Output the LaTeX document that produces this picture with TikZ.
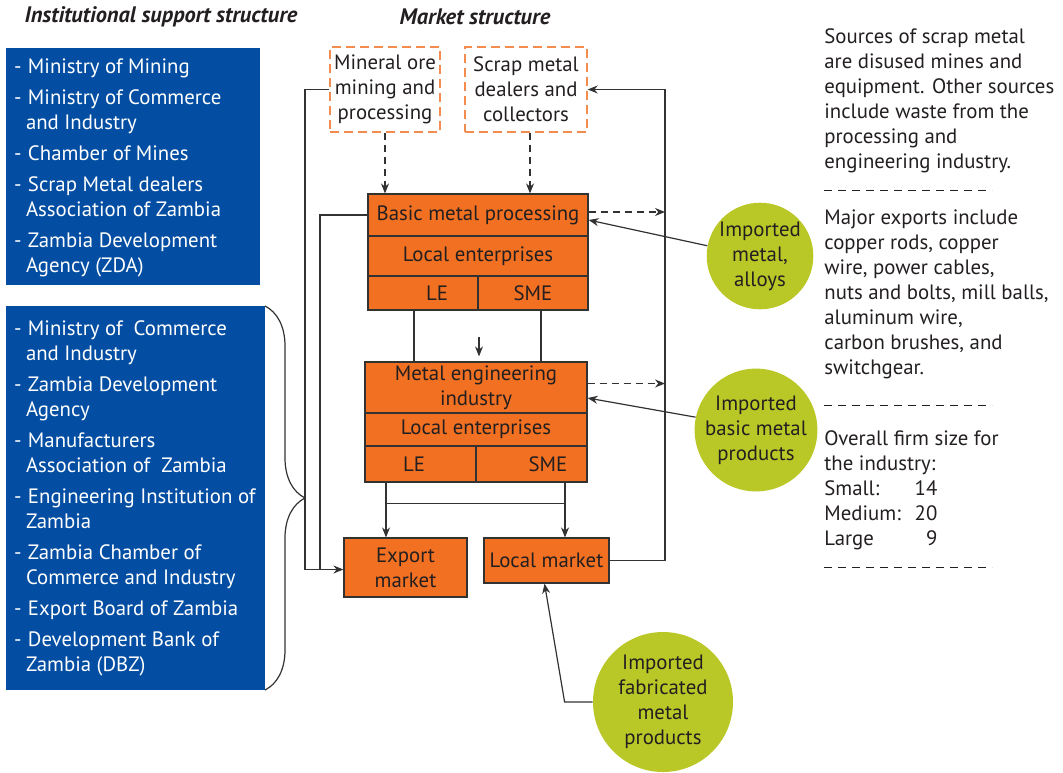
\documentclass[tikz,border=0pt]{standalone}
\usepackage{fontspec}
\setmainfont{PT Sans}
\usetikzlibrary{decorations.pathreplacing, arrows.meta}

\definecolor{instblue}{RGB}{3,78,162}
\definecolor{mktorange}{RGB}{241,112,34}
\definecolor{srcorange}{RGB}{244,140,80}
\definecolor{impgreen}{RGB}{185,200,39}
\definecolor{darktext}{RGB}{35,31,32}
\definecolor{lineclr}{RGB}{50,50,50}

\newcommand{\dsh}{\makebox[7pt][l]{-}}
\newcommand{\cnt}{\hspace*{6pt}}

\begin{document}
\begin{tikzpicture}[
    x=0.5pt, y=-0.5pt,
    font=\fontsize{10.4}{12.5}\selectfont,
    heading/.style={font=\fontsize{11.2}{13}\selectfont\bfseries\itshape, text=darktext, inner sep=0pt},
    instbox/.style={rectangle, fill=instblue, inner sep=0pt},
    insttext/.style={text=white, align=left, inner sep=0pt, anchor=west},
    src/.style={rectangle, draw=srcorange, line width=0.7pt, dash pattern=on 4.5pt off 2.5pt, text=darktext, align=center, inner sep=0pt},
    cell/.style={rectangle, draw=lineclr, line width=0.6pt, fill=mktorange, text=darktext, align=center, inner sep=0pt},
    imp/.style={circle, fill=impgreen, text=darktext, align=center, inner sep=0pt},
    note/.style={align=left, inner sep=0pt, anchor=north west, text=darktext},
    arr/.style={-{Stealth[length=5pt, width=4pt]}, draw=lineclr, line width=0.6pt},
    darr/.style={arr, dash pattern=on 3.5pt off 2.5pt},
    rule/.style={draw=darktext, line width=0.5pt, dash pattern=on 4pt off 3pt},
]
    \useasboundingbox (0,0) rectangle (1063,772);

    % Headings
    \node[heading] (insthead) at (161,17) {Institutional support structure};
    \node[heading] (mkthead) at (475,17) {Market structure};

    % Institutional support
    \node[instbox, minimum width=127pt, minimum height=118.5pt] (instA) at (133,166.5) {};
    \node[insttext] (instAtxt) at ([xshift=4pt,yshift=-0.5pt]instA.west) {\dsh Ministry of Mining\\[3pt]
        \dsh Ministry of Commerce\\ \cnt and Industry\\[3pt]
        \dsh Chamber of Mines\\[3pt]
        \dsh Scrap Metal dealers\\ \cnt Association of Zambia\\[3pt]
        \dsh Zambia Development\\ \cnt Agency (ZDA)};
    \node[instbox, minimum width=129.5pt, minimum height=192pt] (instB) at (135.5,498) {};
    \node[insttext] (instBtxt) at ([xshift=4pt]instB.west) {\dsh Ministry of\ \ Commerce\\ \cnt and Industry\\[3pt]
        \dsh Zambia Development\\ \cnt Agency\\[3pt]
        \dsh Manufacturers\\ \cnt Association of\ \ Zambia\\[3pt]
        \dsh Engineering Institution of\\ \cnt Zambia\\[3pt]
        \dsh Zambia Chamber of\\ \cnt Commerce and Industry\\[3pt]
        \dsh Export Board of Zambia\\[3pt]
        \dsh Development Bank of\\ \cnt Zambia (DBZ)};
    \draw[lineclr, line width=0.6pt, decorate, decoration={brace, amplitude=20pt}] (265,306) -- (265,690);

    % Sources
    \node[src, minimum width=55pt, minimum height=42.5pt] (mineral) at (385,89.5) {Mineral ore\\ mining and\\ processing};
    \node[src, minimum width=61pt, minimum height=42.5pt] (scrap) at (526,89.5) {Scrap metal\\ dealers and\\ collectors};

    % Basic metal processing
    \node[cell, minimum width=110pt, minimum height=21pt] (bmp) at (478,215) {Basic metal processing};
    \node[cell, minimum width=110pt, minimum height=20pt] (bmpLocal) at (478,256) {Local enterprises};
    \node[cell, minimum width=55pt, minimum height=17pt] (bmpLE) at (423,293) {\hspace*{14pt}LE};
    \node[cell, minimum width=55pt, minimum height=17pt] (bmpSME) at (533,293) {SME};

    % Metal engineering
    \node[cell, minimum width=111pt, minimum height=25.5pt] (mei) at (476,387.5) {Metal engineering\\ industry};
    \node[cell, minimum width=111pt, minimum height=16.5pt] (meiLocal) at (476,429.5) {Local enterprises};
    \node[cell, minimum width=55.5pt, minimum height=18pt] (meiLE) at (420.5,464) {\hspace*{-6.5pt}LE};
    \node[cell, minimum width=55.5pt, minimum height=18pt] (meiSME) at (531.5,464) {\hspace*{16.5pt}SME};

    % Markets
    \node[cell, minimum width=61.5pt, minimum height=29.5pt] (export) at (405.5,567.5) {Export\\ market};
    \node[cell, minimum width=62.5pt, minimum height=22.5pt] (local) at (546.5,560.5) {Local market};

    % Imports
    \node[imp, minimum size=52pt] (alloys) at (760,256) {Imported\\ metal,\\ alloys};
    \node[imp, minimum size=56pt] (basicimp) at (756,430) {Imported\\ basic metal\\ products};
    \node[imp, minimum size=70pt] (fabimp) at (663,702) {Imported\\ fabricated\\ metal\\ products};

    \coordinate (lxa) at (305,0);
    \coordinate (lxb) at (320,0);
    \coordinate (rx) at (665,0);

    % Flows
    \draw[darr] (mineral.south) -- (mineral.south |- bmp.north);
    \draw[darr] ([xshift=2pt]scrap.south) -- ([xshift=2pt]scrap.south |- bmp.north);
    \draw[lineclr, line width=0.6pt] ([xshift=-4.5pt]bmpLE.south) -- ([xshift=-4.5pt]bmpLE.south |- mei.north);
    \draw[lineclr, line width=0.6pt] ([xshift=4pt]bmpSME.south) -- ([xshift=4pt]bmpSME.south |- mei.north);
    \draw[arr] ([xshift=1.5pt,yshift=12pt]mei.north) -- ([xshift=1.5pt,yshift=2.5pt]mei.north);
    \draw[arr] ([xshift=-17.25pt]meiLE.south) -- ([xshift=-17.25pt]meiLE.south |- export.north);
    \draw[arr] ([xshift=16.75pt]meiSME.south) -- ([xshift=16.75pt]meiSME.south |- local.north);
    \draw[lineclr, line width=0.6pt] ([xshift=-17.25pt,yshift=-10.5pt]meiLE.south) -- ([xshift=16.75pt,yshift=-10.5pt]meiSME.south);
    \draw[arr] (mineral.west) -- (mineral.west -| lxa) -- ([yshift=-1pt]lxa |- export.west) -- ([yshift=-1pt]export.west);
    \draw[lineclr, line width=0.6pt] (bmp.west) -- (bmp.west -| lxb) -- ([yshift=-1pt]lxb |- export.west);
    \draw[arr] (local.east) -- (local.east -| rx) -- (rx |- scrap.east) -- (scrap.east);
    \draw[darr] ([yshift=1.5pt]bmp.east) -- ([yshift=1.5pt]bmp.east -| rx);
    \draw[darr] ([yshift=2pt]mei.east) -- ([yshift=2pt]mei.east -| rx);
    \draw[arr] (alloys.169) -- ([yshift=-2.5pt]bmp.east);
    \draw[arr] (basicimp.168) -- ([yshift=-5.25pt]mei.east);
    \draw[arr] (fabimp.west) -- ++(-28,0) -- ([xshift=-1pt]local.south);

    % Notes
    \node[note] (scrapnote) at (824,28) {Sources of scrap metal\\ are disused mines and\\ equipment. Other sources\\ include waste from the\\ processing and\\ engineering industry.};
    \node[note] (exportnote) at (824,209) {Major exports include\\ copper rods, copper\\ wire, power cables,\\ nuts and bolts, mill balls,\\ aluminum wire,\\ carbon brushes, and\\ switchgear.};
    \node[note] (sizenote) at (824,430) {Overall firm size for\\ the industry:\\ \rlap{Small:}\makebox[56.5pt][r]{14}\\ \rlap{Medium:}\makebox[56.5pt][r]{20}\\ \rlap{Large}\makebox[56.5pt][r]{9}};
    \draw[rule] (824,190) -- (992,190);
    \draw[rule] (824,405) -- (992,405);
    \draw[rule] (824,567) -- (992,567);
\end{tikzpicture}
\end{document}
